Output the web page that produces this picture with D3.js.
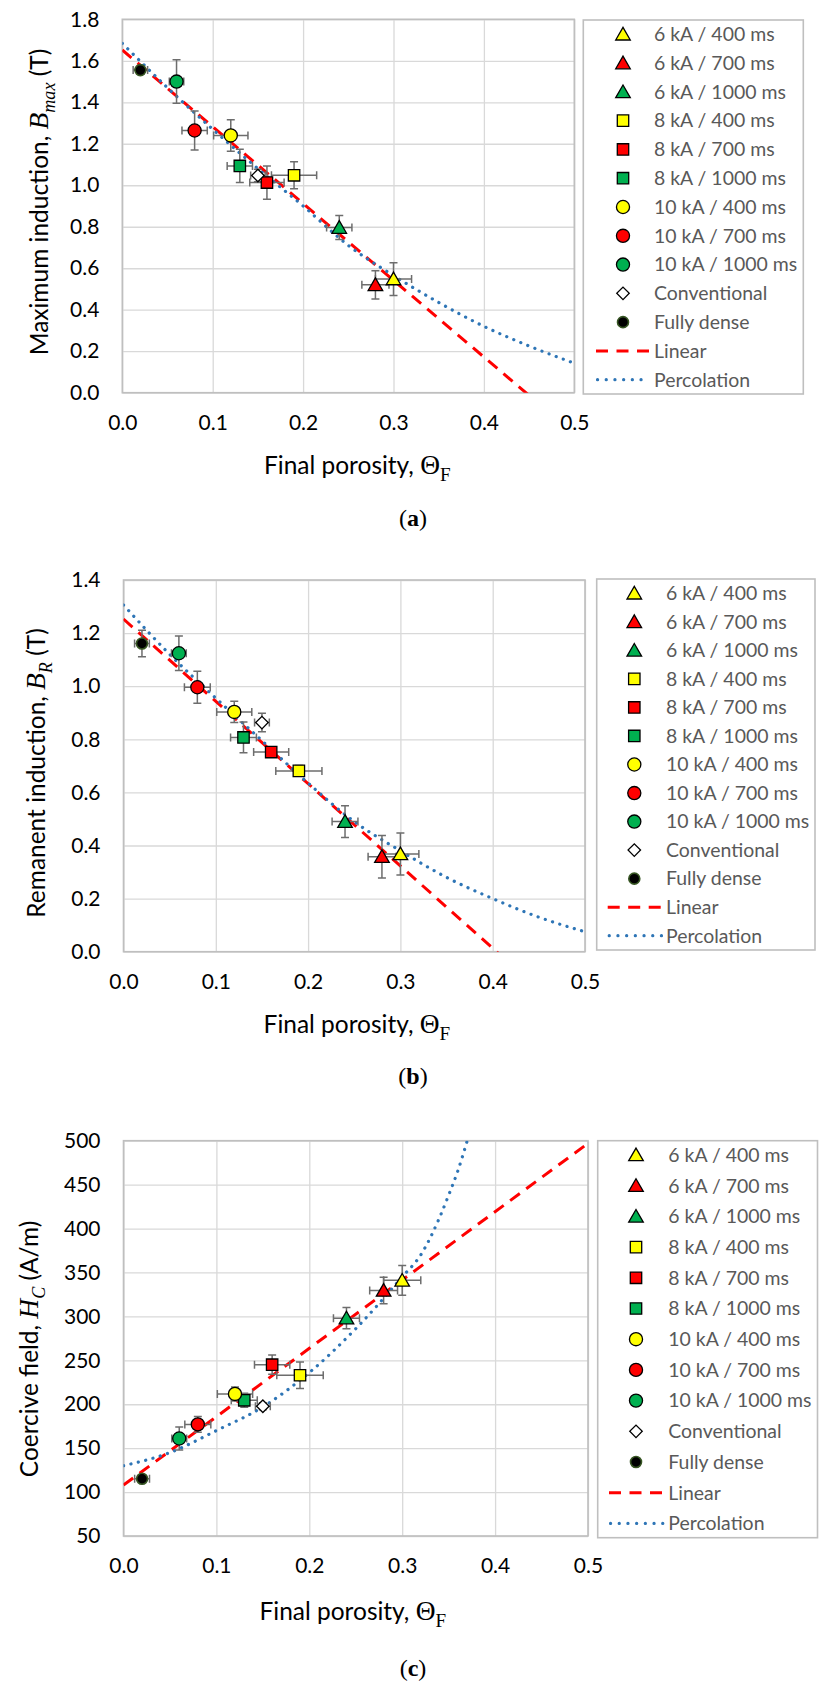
<!DOCTYPE html>
<html>
<head>
<meta charset="utf-8">
<script src="https://cdn.jsdelivr.net/npm/d3@7"></script>
<style>
  body { margin: 0; background: #fff; }
  text { font-family: Lato, "Open Sans", sans-serif; }
  .tick text { fill: #000; }
  .grid line { stroke: #d9d9d9; stroke-width: 1.3; }
  .axisTitle { fill: #000; }
  .math { font-family: "Liberation Serif", "DejaVu Serif", serif; }
  .legendText { fill: #595959; }
  .panelLabel { font-family: "Liberation Serif", "DejaVu Serif", serif; font-size: 24px; }
</style>
</head>
<body>
<div id="chart"></div>
<script>
// series, in legend order
var seriesNames = ["6 kA / 400 ms", "6 kA / 700 ms", "6 kA / 1000 ms",
  "8 kA / 400 ms", "8 kA / 700 ms", "8 kA / 1000 ms",
  "10 kA / 400 ms", "10 kA / 700 ms", "10 kA / 1000 ms",
  "Conventional", "Fully dense"];
var seriesShapes = ["triangle", "triangle", "triangle", "square", "square", "square",
  "circle", "circle", "circle", "diamond", "dot"];
var seriesColors = ["#ffff00", "#ff0000", "#00b050", "#ffff00", "#ff0000", "#00b050",
  "#ffff00", "#ff0000", "#00b050", "#ffffff", "#000000"];

// final porosity (x) and its error
var porosity    = [0.30, 0.28, 0.24, 0.19, 0.16, 0.13, 0.12, 0.08, 0.06, 0.15, 0.02];
var porosityErr = [0.020, 0.015, 0.014, 0.025, 0.019, 0.014, 0.019, 0.014, 0.008, 0.008, 0.008];

// (a) maximum induction
var bMax    = [0.548, 0.520, 0.796, 1.048, 1.013, 1.093, 1.240, 1.264, 1.500, 1.047, 1.555];
var bMaxErr = [0.079, 0.068, 0.058, 0.065, 0.080, 0.080, 0.076, 0.094, 0.105, 0.030, 0.020];

// (b) remanent induction
var bRem    = [0.368, 0.358, 0.490, 0.681, 0.752, 0.807, 0.903, 0.996, 1.124, 0.863, 1.161];
var bRemErr = [0.079, 0.080, 0.060, 0.020, 0.020, 0.058, 0.040, 0.060, 0.065, 0.035, 0.050];

// (c) coercive field
var hCoer    = [341, 329.5, 298, 233, 245, 204.5, 211.7, 177, 161, 197.7, 115.2];
var hCoerErr = [17, 15, 12, 15, 11, 8, 8, 9, 13, 4, 3];

// fitted curves
var linearX = [0, 0.5];
var linearA = [1.652, -0.198];
var linearB = [1.253, -0.297];
var linearC = [108, 497];

var percX = [0, 0.05, 0.1, 0.15, 0.2, 0.25, 0.3, 0.35, 0.4, 0.45, 0.5];
var percA = [1.684, 1.47, 1.27, 1.08, 0.90, 0.71, 0.565, 0.435, 0.32, 0.225, 0.142];
var percB = [1.306, 1.12, 0.955, 0.795, 0.635, 0.49, 0.38, 0.28, 0.20, 0.13, 0.075];
var percCX = [0, 0.05, 0.1, 0.15, 0.2, 0.25, 0.3, 0.32, 0.34, 0.35, 0.36, 0.37];
var percC  = [130, 145, 170, 197, 236, 286, 345, 370, 412, 438, 466, 500];

// tick labels
var xTicks  = [0, 0.1, 0.2, 0.3, 0.4, 0.5];
var yTicksA = [0, 0.2, 0.4, 0.6, 0.8, 1.0, 1.2, 1.4, 1.6, 1.8];
var yTicksB = [0, 0.2, 0.4, 0.6, 0.8, 1.0, 1.2, 1.4];
var yTicksC = [50, 100, 150, 200, 250, 300, 350, 400, 450, 500];

var svgWidth = 819;
var svgHeight = 1684;

var svg = d3.select("#chart").append("svg")
  .attr("width", svgWidth)
  .attr("height", svgHeight)
  .style("display", "block");

svg.append("rect").attr("width", svgWidth).attr("height", svgHeight).attr("fill", "#fff");

// pick font sizes so a sample string gets the width seen in the figure
function fitSize(str, target) {
  var t = svg.append("text").style("font-size", "100px").text(str);
  var w = t.node().getComputedTextLength();
  t.remove();
  return 100 * target / w;
}
var tickFont = fitSize("0.0", 29.3);
var titleFont = fitSize("Final porosity,", 150);
var legendFont = Math.min(fitSize("6 kA / 400 ms", 120.7), fitSize("10 kA / 1000 ms", 145));

var panels = [
  {
    id: "a", left: 122.3, right: 574.3, top: 19.3, bottom: 392.7,
    yDomain: [0, 1.8], yTicks: yTicksA, yFormat: d3.format(".1f"),
    values: bMax, errors: bMaxErr, linear: linearA, percX: percX, perc: percA,
    yTitle: ["Maximum induction, ", "B", "max", " (T)"], yTitleX: 48, yTitleY: 202,
    xTitleX: 264, xTitleY: 474,
    legend: { x0: 583.3, x1: 803.3, y0: 20, y1: 394, mx: 623, tx: 654, lx0: 596, lx1: 649 },
    labelY: 526
  },
  {
    id: "b", left: 123.5, right: 585, top: 580, bottom: 951.7,
    yDomain: [0, 1.4], yTicks: yTicksB, yFormat: d3.format(".1f"),
    values: bRem, errors: bRemErr, linear: linearB, percX: percX, perc: percB,
    yTitle: ["Remanent induction, ", "B", "R", " (T)"], yTitleX: 45, yTitleY: 773,
    xTitleX: 263.6, xTitleY: 1032.7,
    legend: { x0: 596.7, x1: 815, y0: 579, y1: 950, mx: 634.3, tx: 666, lx0: 607.7, lx1: 661.7 },
    labelY: 1084
  },
  {
    id: "c", left: 123.5, right: 588, top: 1140.7, bottom: 1536,
    yDomain: [50, 500], yTicks: yTicksC, yFormat: d3.format("d"),
    values: hCoer, errors: hCoerErr, linear: linearC, percX: percCX, perc: percC,
    yTitle: ["Coercive field, ", "H", "C", " (A/m)"], yTitleX: 37.5, yTitleY: 1349,
    xTitleX: 259.5, xTitleY: 1620,
    legend: { x0: 597.7, x1: 817.5, y0: 1140.7, y1: 1537.7, mx: 636, tx: 668.3, lx0: 609, lx1: 663.3 },
    labelY: 1676
  }
];

function markerPath(shape) {
  if (shape === "triangle") return d3.symbol(d3.symbolTriangle, 92)();
  if (shape === "square") return d3.symbol(d3.symbolSquare, 130)();
  if (shape === "circle") return d3.symbol(d3.symbolCircle, 135)();
  if (shape === "diamond") return d3.symbol(d3.symbolSquare, 78)();
  return d3.symbol(d3.symbolCircle, 95)();
}

function drawMarker(sel, i) {
  var shape = seriesShapes[i];
  sel.append("path")
    .attr("d", markerPath(shape))
    .attr("transform", shape === "diamond" ? "rotate(45)" : (shape === "triangle" ? "translate(0,1.5)" : null))
    .attr("fill", seriesColors[i])
    .attr("stroke", shape === "dot" ? "#375623" : "#000")
    .attr("stroke-width", shape === "dot" ? 1.6 : 1.3);
}

panels.forEach(function(p) {
  var x = d3.scaleLinear().domain([0, 0.5]).range([p.left, p.right]);
  var y = d3.scaleLinear().domain(p.yDomain).range([p.bottom, p.top]);
  var g = svg.append("g");

  // gridlines
  g.append("g").attr("class", "grid")
    .attr("transform", `translate(0, ${p.bottom})`)
    .call(d3.axisBottom(x).tickValues(xTicks).tickSize(-(p.bottom - p.top)).tickFormat(""))
    .call(a => a.select(".domain").remove());
  g.append("g").attr("class", "grid")
    .attr("transform", `translate(${p.left}, 0)`)
    .call(d3.axisLeft(y).tickValues(p.yTicks).tickSize(-(p.right - p.left)).tickFormat(""))
    .call(a => a.select(".domain").remove());

  // plot frame
  g.append("rect")
    .attr("x", p.left).attr("y", p.top)
    .attr("width", p.right - p.left).attr("height", p.bottom - p.top)
    .attr("fill", "none").attr("stroke", "#bfbfbf").attr("stroke-width", 1.6);

  // tick labels
  g.append("g")
    .attr("transform", `translate(0, ${p.bottom})`)
    .call(d3.axisBottom(x).tickValues(xTicks).tickSize(0).tickPadding(22).tickFormat(d3.format(".1f")))
    .call(a => a.select(".domain").remove())
    .selectAll("text").style("font-size", tickFont + "px");
  g.append("g")
    .attr("transform", `translate(${p.left}, 0)`)
    .call(d3.axisLeft(y).tickValues(p.yTicks).tickSize(0).tickPadding(23).tickFormat(p.yFormat))
    .call(a => a.select(".domain").remove())
    .selectAll("text").style("font-size", tickFont + "px");

  // axis titles
  var xt = g.append("text").attr("class", "axisTitle")
    .style("font-size", titleFont + "px")
    .attr("x", p.xTitleX).attr("y", p.xTitleY);
  xt.append("tspan").text("Final porosity, ");
  xt.append("tspan").attr("class", "math").style("font-size", (titleFont * 1.12) + "px").text("\u0398");
  xt.append("tspan").attr("class", "math").style("font-size", (titleFont * 0.78) + "px").attr("dy", 7).text("F");

  var yt = g.append("text").attr("class", "axisTitle")
    .style("font-size", titleFont + "px")
    .attr("transform", `translate(${p.yTitleX}, ${p.yTitleY}) rotate(-90)`)
    .attr("text-anchor", "middle");
  yt.append("tspan").text(p.yTitle[0]);
  yt.append("tspan").attr("class", "math").attr("font-style", "italic").style("font-size", (titleFont * 1.12) + "px").text(p.yTitle[1]);
  yt.append("tspan").attr("class", "math").attr("font-style", "italic").style("font-size", (titleFont * 0.74) + "px").attr("dy", 7).text(p.yTitle[2]);
  yt.append("tspan").attr("dy", -7).text(p.yTitle[3]);

  // panel label
  var lab = g.append("text").attr("class", "panelLabel")
    .attr("x", 413).attr("y", p.labelY).attr("text-anchor", "middle");
  lab.append("tspan").text("(");
  lab.append("tspan").attr("font-weight", "bold").text(p.id);
  lab.append("tspan").text(")");

  // fitted lines, clipped to plot area
  var clipId = "clip-" + p.id;
  svg.append("clipPath").attr("id", clipId).append("rect")
    .attr("x", p.left).attr("y", p.top)
    .attr("width", p.right - p.left).attr("height", p.bottom - p.top);

  var lines = g.append("g").attr("clip-path", `url(#${clipId})`);
  var linePts = linearX.map((v, i) => [v, p.linear[i]]);
  lines.append("path")
    .attr("d", d3.line().x(d => x(d[0])).y(d => y(d[1]))(linePts))
    .attr("fill", "none").attr("stroke", "#ff0000")
    .attr("stroke-width", 3).attr("stroke-dasharray", "12,8");
  var percPts = p.percX.map((v, i) => [v, p.perc[i]]);
  lines.append("path")
    .attr("d", d3.line().x(d => x(d[0])).y(d => y(d[1])).curve(d3.curveMonotoneX)(percPts))
    .attr("fill", "none").attr("stroke", "#2e75b6")
    .attr("stroke-width", 3.2).attr("stroke-linecap", "round")
    .attr("stroke-dasharray", "0.1,7.5");

  // error bars
  var eb = g.append("g").attr("stroke", "#6d6d6d").attr("stroke-width", 1.5).attr("fill", "none");
  porosity.forEach(function(px, i) {
    var cx = x(px), cy = y(p.values[i]);
    var x0 = x(px - porosityErr[i]), x1 = x(px + porosityErr[i]);
    var y0 = y(p.values[i] - p.errors[i]), y1 = y(p.values[i] + p.errors[i]);
    eb.append("path").attr("d",
      `M${x0},${cy}H${x1}M${x0},${cy - 4}V${cy + 4}M${x1},${cy - 4}V${cy + 4}` +
      `M${cx},${y0}V${y1}M${cx - 4},${y0}H${cx + 4}M${cx - 4},${y1}H${cx + 4}`);
  });

  // markers
  porosity.forEach(function(px, i) {
    var m = g.append("g").attr("transform", `translate(${x(px)}, ${y(p.values[i])})`);
    drawMarker(m, i);
  });

  // legend
  var L = p.legend;
  var lg = g.append("g");
  lg.append("rect")
    .attr("x", L.x0).attr("y", L.y0)
    .attr("width", L.x1 - L.x0).attr("height", L.y1 - L.y0)
    .attr("fill", "#fff").attr("stroke", "#bfbfbf").attr("stroke-width", 1.6);
  var step = (L.y1 - L.y0 - 28.6) / 12;
  var names = seriesNames.concat(["Linear", "Percolation"]);
  names.forEach(function(name, i) {
    var ry = L.y0 + 14.3 + i * step;
    if (i < seriesNames.length) {
      var m = lg.append("g").attr("transform", `translate(${L.mx}, ${ry})`);
      drawMarker(m, i);
    } else if (name === "Linear") {
      lg.append("line").attr("x1", L.lx0).attr("x2", L.lx1).attr("y1", ry).attr("y2", ry)
        .attr("stroke", "#ff0000").attr("stroke-width", 3).attr("stroke-dasharray", "12,8.5");
    } else {
      lg.append("line").attr("x1", L.lx0 + 1.5).attr("x2", L.lx1).attr("y1", ry).attr("y2", ry)
        .attr("stroke", "#2e75b6").attr("stroke-width", 3.2).attr("stroke-linecap", "round")
        .attr("stroke-dasharray", "0.1,8.6");
    }
    lg.append("text").attr("class", "legendText")
      .style("font-size", legendFont + "px")
      .attr("x", L.tx).attr("y", ry).attr("dy", "0.35em")
      .text(name);
  });
});
</script>
</body>
</html>
